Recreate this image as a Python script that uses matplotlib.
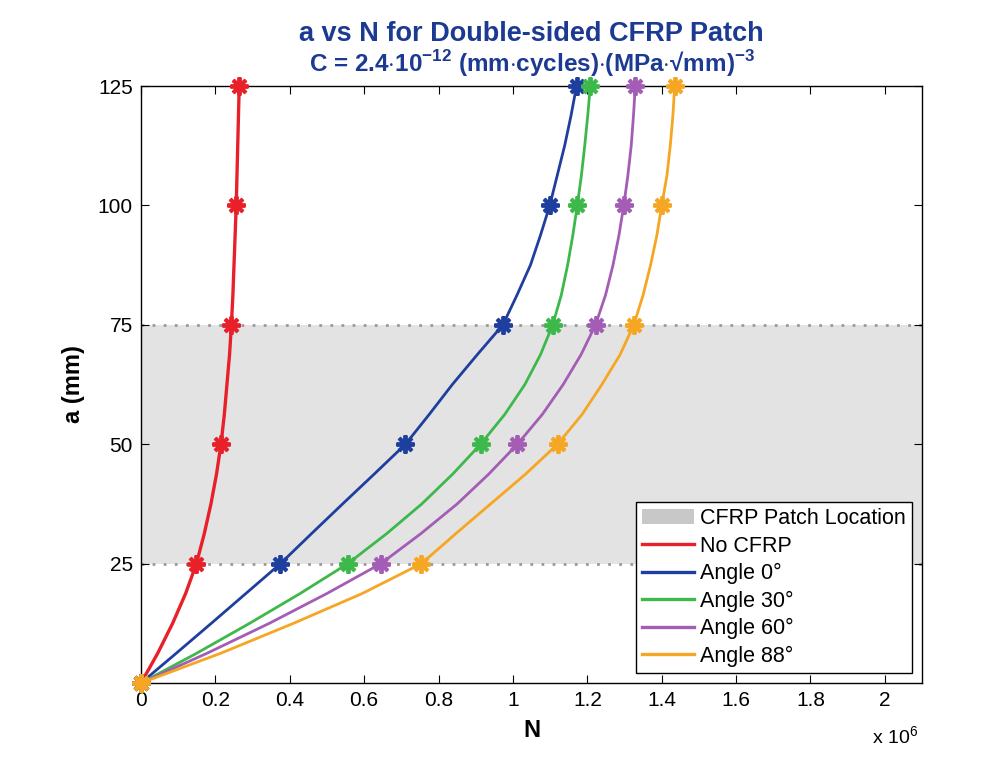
import numpy as np
import matplotlib.pyplot as plt
from matplotlib.patches import Patch
from matplotlib.lines import Line2D

plt.rcParams['font.family'] = ['Liberation Sans', 'DejaVu Sans']
plt.rcParams['mathtext.fontset'] = 'custom'
plt.rcParams['mathtext.rm'] = 'Liberation Sans'
plt.rcParams['mathtext.bf'] = 'Liberation Sans:bold'

# crack length a (mm) and cycles N (x 10^6) for each case
a = [0, 6.25, 12.5, 18.75, 25, 31.25, 37.5, 43.75, 50, 56.25, 62.5, 68.75,
     75, 81.25, 87.5, 93.75, 100, 106.25, 112.5, 118.75, 125]
n_no_cfrp = [0, 0.045, 0.085, 0.120, 0.149, 0.170, 0.188, 0.203, 0.215, 0.224, 0.231, 0.238,
             0.243, 0.247, 0.250, 0.253, 0.256, 0.258, 0.260, 0.262, 0.264]
n_angle0 = [0, 0.095, 0.189, 0.282, 0.375, 0.458, 0.542, 0.627, 0.711, 0.775, 0.837, 0.904,
            0.973, 1.011, 1.047, 1.074, 1.099, 1.119, 1.139, 1.156, 1.171]
n_angle30 = [0, 0.150, 0.292, 0.428, 0.556, 0.660, 0.755, 0.838, 0.913, 0.978, 1.032, 1.074,
             1.107, 1.130, 1.147, 1.161, 1.173, 1.184, 1.193, 1.201, 1.208]
n_angle60 = [0, 0.178, 0.345, 0.500, 0.645, 0.752, 0.850, 0.935, 1.012, 1.079, 1.135, 1.183,
             1.222, 1.249, 1.269, 1.285, 1.298, 1.309, 1.318, 1.324, 1.329]
n_angle88 = [0, 0.215, 0.410, 0.595, 0.754, 0.846, 0.940, 1.034, 1.120, 1.186, 1.239, 1.288,
             1.325, 1.350, 1.370, 1.387, 1.400, 1.414, 1.423, 1.430, 1.435]

labels = ['No CFRP', 'Angle 0°', 'Angle 30°', 'Angle 60°', 'Angle 88°']
colors = ['#e8202a', '#1f3f9e', '#3db84a', '#a35db5', '#f5a623']
patch_lo, patch_hi = 25, 75

# star markers every 25 mm
marks = [i for i, v in enumerate(a) if v % 25 == 0]

fig = plt.figure(figsize=(10.03, 7.6), dpi=100)
ax = fig.add_axes([0.1406, 0.1013, 0.7787, 0.7855])

ax.axhspan(patch_lo, patch_hi, color='#e3e3e3', lw=0, zorder=0)
for y in (patch_lo, patch_hi):
    ax.axhline(y, color='#9a9a9a', lw=2, ls=(0, (1, 3)), zorder=1)

series = [n_no_cfrp, n_angle0, n_angle30, n_angle60, n_angle88]
for n, col in zip(series, colors):
    lw = 2.4 if col == colors[0] else 2
    ax.plot(n, a, color=col, lw=lw, marker=(8, 2, 0), markersize=13,
            markeredgewidth=2.8, markevery=marks, zorder=3, clip_on=False)

ax.set_xlim(0, 2.1)
ax.set_ylim(0, 125)
ax.set_xticks(np.arange(0, 2.01, 0.2))
ax.set_xticklabels(['0', '0.2', '0.4', '0.6', '0.8', '1', '1.2', '1.4', '1.6', '1.8', '2'])
ax.set_yticks([25, 50, 75, 100, 125])
ax.tick_params(direction='in', top=True, right=True, labelsize=15, length=6, pad=6)
for s in ax.spines.values():
    s.set_linewidth(1)

ax.set_xlabel('N', fontsize=17, fontweight='bold', labelpad=6)
ax.set_ylabel('a (mm)', fontsize=17, fontweight='bold', labelpad=9)

fig.text(0.53, 0.955, 'a vs N for Double-sided CFRP Patch', ha='center', va='center',
         fontsize=19.5, fontweight='bold', color='#1c3a92')
fig.text(0.53, 0.917, r'C = 2.4$\cdot$10$^{\mathbf{-12}}$ (mm$\cdot$cycles)$\cdot$(MPa$\cdot$√mm)$^{\mathbf{-3}}$',
         ha='center', va='center', fontsize=17.5, fontweight='bold', color='#1c3a92')
fig.text(0.869, 0.03, r'x 10$^{6}$', ha='left', va='center', fontsize=14)

handles = [Patch(facecolor='#c8c8c8', edgecolor='none', label='CFRP Patch Location')]
handles += [Line2D([], [], color=c, lw=2.4, label=l) for c, l in zip(colors, labels)]
leg = ax.legend(handles=handles, loc='lower right', fontsize=15.5, frameon=True, fancybox=False,
                framealpha=1, edgecolor='black', handlelength=2.4, borderaxespad=0.45,
                labelspacing=0.3, handletextpad=0.3, borderpad=0.3)
leg.get_frame().set_linewidth(1)

plt.savefig('out.png', dpi=100)
